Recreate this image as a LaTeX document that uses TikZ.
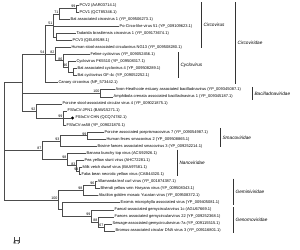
\documentclass[tikz,border=0pt]{standalone}
\usepackage{fontspec}
\setmainfont{Liberation Sans}
\usetikzlibrary{math,positioning,calc}

\tikzset{
  br/.style={draw=black!70, line width=0.45pt},
  leaf/.style={anchor=west, inner sep=0.4pt, font=\fontsize{4}{4.5}\selectfont},
  bs/.style={anchor=south east, inner sep=0.3pt, xshift=-0.2pt, font=\fontsize{3.6}{4}\selectfont},
  fam/.style={anchor=west, inner sep=0.5pt, xshift=1.8pt, font=\fontsize{4.7}{5.5}\selectfont\itshape},
  brk/.style={draw=black!80, line width=0.6pt},
}

\begin{document}
\begin{tikzpicture}[x=1pt,y=-7.06pt]
\useasboundingbox (0,-0.708) rectangle (300,34.70);

%leaves (one row each)
\node[leaf] (pcv2) at (79,0) {PCV2 (AAR03714.1)};
\node[leaf] (pcv1) at (79,1) {PCV1 (QCT85346.1)};
\node[leaf] (batcirc) at (70,2) {Bat associated circovirus 1 (YP\_009506273.1)};
\node[leaf] (pocirco) at (119,3) {Po-Circo-like virus 51 (YP\_009109623.1)};
\node[leaf] (tadarida) at (76,4) {Tadarida brasiliensis circovirus 1 (YP\_009173674.1)};
\node[leaf] (pcv3) at (72,5) {PCV3 (QEL69198.1)};
\node[leaf] (humstool) at (71,6) {Human stool-associated circulavirus NG13 (YP\_009508280.1)};
\node[leaf] (feline) at (90,7) {Feline cyclovirus (YP\_009052456.1)};
\node[leaf] (cycpk) at (76,8) {Cyclovirus PK5510 (YP\_009508317.1)};
\node[leaf] (batcyc) at (77,9) {Bat associated cyclovirus 4 (YP\_009508289.1)};
\node[leaf] (batgf) at (77,10) {Bat cyclovirus GF-4c (YP\_009052252.1)};
\node[leaf] (canary) at (58,11) {Canary circovirus (NP\_573442.1)};
\node[leaf] (avon) at (115,12) {Avon-Heathcote estuary associated bacilladnavirus (YP\_009345087.1)};
\node[leaf] (amphi) at (113,13) {Amphibola crenata associated bacilladnavirus 1 (YP\_009345187.1)};
\node[leaf] (porcstool) at (62,14) {Porcine stool-associated circular virus 4 (YP\_009021875.1)};
\node[leaf] (jpn) at (67,15) {FSfaCV-JPN1 (BAW15271.1)};
\node[circle, fill=black, inner sep=0pt, minimum size=3.2pt] (chndot) at (72.5,16) {};
\node[leaf, right=0.6pt of chndot] (chn) {FSfaCV-CHN (QCQ74782.1)};
\node[leaf] (as58) at (66,17) {FSfaCV-as58 (YP\_009021870.1)};
\node[leaf] (porpri) at (104,18) {Porcine associated porprismacovirus 7 (YP\_009054987.1)};
\node[leaf] (humfec) at (106,19) {Human feces smacovirus 2 (YP\_009508865.1)};
\node[leaf] (bovine) at (97,20) {Bovine faeces associated smacovirus 3 (YP\_009252214.1)};
\node[leaf] (banana) at (86,21) {Banana bunchy top virus (ACS92926.1)};
\node[leaf] (pea) at (84,22) {Pea yellow stunt virus (AHC72281.1)};
\node[leaf] (milk) at (82,23) {Milk vetch dwarf virus (BAA97581.1)};
\node[leaf] (faba) at (81,24) {Faba bean necrotic yellow virus (CAB44320.1)};
\node[leaf] (allam) at (97,25) {Allamanda leaf curl virus (YP\_001874387.1)};
\node[leaf] (bhendi) at (100,26) {Bhendi yellow vein Haryana virus (YP\_009508343.1)};
\node[leaf] (abut) at (98,27) {Abutilon golden mosaic Yucatan virus (YP\_009508372.1)};
\node[leaf] (exomis) at (120,28) {Exomis microphylla associated virus (YP\_009405081.1)};
\node[leaf] (faecal) at (114,29) {Faecal-associated gemycircularvirus 1c (AGU67669.1)};
\node[leaf] (faeces) at (114,30) {Faeces associated gemycircularvirus 22 (YP\_009252368.1)};
\node[leaf] (sewage) at (112,31) {Sewage-associated gemycircularvirus-7a (YP\_009115515.1)};
\node[leaf] (bromus) at (115,32) {Bromus-associated circular DNA virus 3 (YP\_009116801.1)};

%inner nodes
\coordinate (n99a) at (76,0.5);
\coordinate (n71) at (59,1.25);
\coordinate (ntp) at (56,4.5);
\coordinate (n51) at (53,2.875);
\coordinate (nbat) at (73,9.5);
\coordinate (n96) at (68,8.75);
\coordinate (n86) at (63,7.875);
\coordinate (n82) at (55,6.9375);
\coordinate (n54) at (45,6.9375);
\coordinate (n100b) at (100,12.5);
\coordinate (n99c) at (63,16);
\coordinate (n92) at (36,15);
\coordinate (na) at (22,10.97);
\coordinate (n99s) at (87,18.5);
\coordinate (n93) at (60,19.25);
\coordinate (n94) at (79,23.5);
\coordinate (n83) at (76,22.75);
\coordinate (n98n) at (67,21.875);
\coordinate (n87) at (42,20.5625);
\coordinate (n96g) at (95,25.5);
\coordinate (n98g) at (83,26.25);
\coordinate (n67) at (104,31.5);
\coordinate (n88) at (98,30.75);
\coordinate (n99g) at (91,29.875);
\coordinate (nex) at (62,28.9375);
\coordinate (n100) at (58,27.59);
\coordinate (root) at (4,19.28);

%branches
\draw[br] (n99a) |- (pcv2) (n99a) |- (pcv1);
\draw[br] (n71) |- (n99a) (n71) |- (batcirc);
\draw[br] (ntp) |- (tadarida) (ntp) |- (pcv3);
\draw[br] (n51) |- (n71) (n51) |- (pocirco) (n51) |- (ntp);
\draw[br] (nbat) |- (batcyc) (nbat) |- (batgf);
\draw[br] (n96) |- (cycpk) (n96) |- (nbat);
\draw[br] (n86) |- (feline) (n86) |- (n96);
\draw[br] (n82) |- (humstool) (n82) |- (n86);
\draw[br] (n54) |- (n51) (n54) |- (n82) (n54) |- (canary);
\draw[br] (n100b) |- (avon) (n100b) |- (amphi);
\draw[br] (n99c) |- (jpn) (n99c) |- (chndot) (n99c) |- (as58);
\draw[br] (n92) |- (porcstool) (n92) |- (n99c);
\draw[br] (na) |- (n54) (na) |- (n100b) (na) |- (n92);
\draw[br] (n99s) |- (porpri) (n99s) |- (humfec);
\draw[br] (n93) |- (n99s) (n93) |- (bovine);
\draw[br] (n94) |- (milk) (n94) |- (faba);
\draw[br] (n83) |- (pea) (n83) |- (n94);
\draw[br] (n98n) |- (banana) (n98n) |- (n83);
\draw[br] (n87) |- (n93) (n87) |- (n98n);
\draw[br] (n96g) |- (allam) (n96g) |- (bhendi);
\draw[br] (n98g) |- (n96g) (n98g) |- (abut);
\draw[br] (n67) |- (sewage) (n67) |- (bromus);
\draw[br] (n88) |- (faeces) (n88) |- (n67);
\draw[br] (n99g) |- (faecal) (n99g) |- (n88);
\draw[br] (nex) |- (exomis) (nex) |- (n99g);
\draw[br] (n100) |- (n98g) (n100) |- (nex);
\draw[br] (root) |- (na) (root) |- (n87) (root) |- (n100);

%bootstrap values
\node[bs] (b1) at (n99a) {99};
\node[bs] (b2) at (n71) {71};
\node[bs] (b3) at (n51) {51};
\node[bs] (b4) at (n82) {82};
\node[bs] (b5) at (n86) {86};
\node[bs] (b6) at (n96) {96};
\node[bs] (b7) at (n54) {54};
\node[bs] (b8) at (n100b) {100};
\node[bs] (b9) at (n99c) {99};
\node[bs] (b10) at (n92) {92};
\node[bs] (b11) at (n99s) {99};
\node[bs] (b12) at (n93) {93};
\node[bs] (b13) at (n87) {87};
\node[bs] (b14) at (n98n) {98};
\node[bs] (b15) at (n83) {83};
\node[bs] (b16) at (n94) {94};
\node[bs] (b17) at (n96g) {96};
\node[bs] (b18) at (n98g) {98};
\node[bs] (b19) at (n100) {100};
\node[bs] (b20) at (n99g) {99};
\node[bs] (b21) at (n88) {88};
\node[bs] (b22) at (n67) {67};

%groups
\coordinate (cvT) at (201,-0.42); \coordinate (cvB) at (201,6.1);
\coordinate (cyT) at (178,6.7); \coordinate (cyB) at (178,10.3);
\coordinate (cdT) at (235,-0.42); \coordinate (cdB) at (235,11.2);
\coordinate (baT) at (252,11.6); \coordinate (baB) at (252,13.46);
\coordinate (smT) at (220,17.4); \coordinate (smB) at (220,20.1);
\coordinate (naT) at (177,20.5); \coordinate (naB) at (177,24.2);
\coordinate (geT) at (233,24.6); \coordinate (geB) at (233,28.3);
\coordinate (gnT) at (233,28.6); \coordinate (gnB) at (233,32.3);
\draw[brk] (cvT) -- (cvB) node[fam, midway] (lcv) {Circovirus};
\draw[brk] (cyT) -- (cyB) node[fam, midway] (lcy) {Cyclovirus};
\draw[brk] (cdT) -- (cdB) node[fam, midway] (lcd) {Circoviridae};
\draw[brk] (baT) -- (baB) node[fam, midway] (lba) {Bacilladnaviridae};
\draw[brk] (smT) -- (smB) node[fam, midway] (lsm) {Smacoviridae};
\draw[brk] (naT) -- (naB) node[fam, midway] (lna) {Nanoviridae};
\draw[brk] (geT) -- (geB) node[fam, midway] (lge) {Geminiviridae};
\draw[brk] (gnT) -- (gnB) node[fam, midway] (lgn) {Genomoviridae};

%scale bar
\coordinate (sbL) at (13.5,33.3); \coordinate (sbR) at (19.5,33.3);
\draw[br, |-|] (sbL) -- (sbR);
\node[anchor=north, inner sep=0pt, font=\fontsize{4}{4.5}\selectfont] (lsb) at ($(sbL)!0.5!(sbR)+(0,0.2)$) {0.1};
\end{tikzpicture}
\end{document}
